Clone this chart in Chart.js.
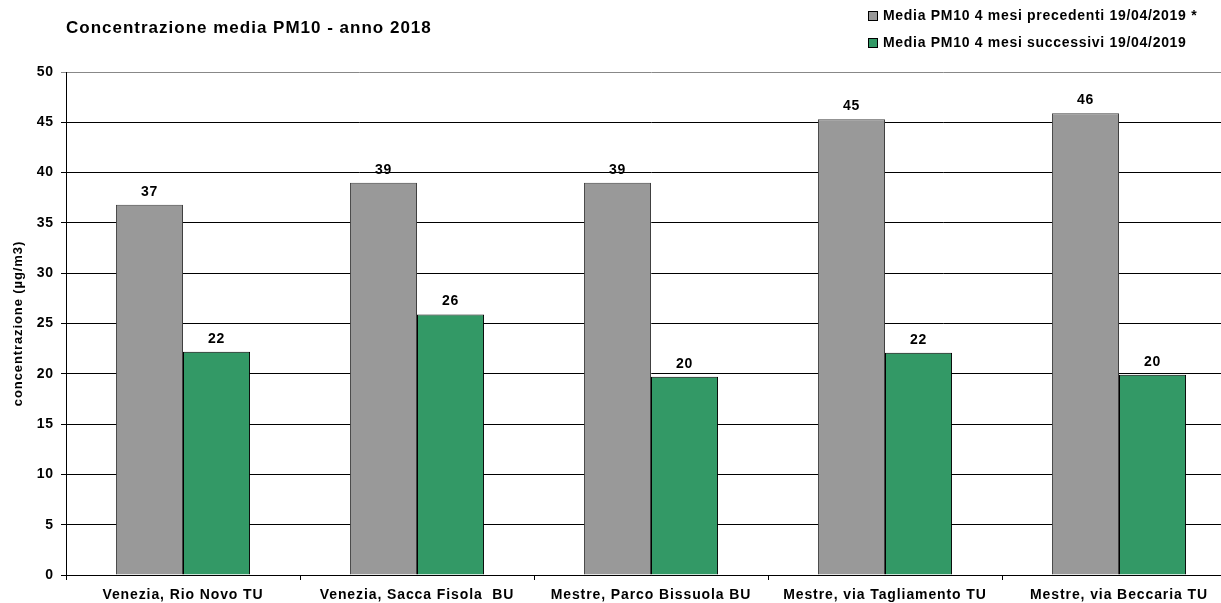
<!DOCTYPE html>
<html>
<head>
<meta charset="utf-8">
<script src="https://cdn.jsdelivr.net/npm/chart.js@4.4.0/dist/chart.umd.min.js"></script>
<style>
  html, body { margin: 0; padding: 0; background: #fff; overflow: hidden; }
  /* the original plot area runs past the right edge of the picture */
  #wrap { width: 1236px; height: 603px; position: relative; }
</style>
</head>
<body>
<div id="wrap"><canvas id="pmChart"></canvas></div>
<script>
// Stations and PM10 averages (µg/m3)
const stations = [
  'Venezia, Rio Novo TU',
  'Venezia, Sacca Fisola  BU',
  'Mestre, Parco Bissuola BU',
  'Mestre, via Tagliamento TU',
  'Mestre, via Beccaria TU'
];
const before = [36.8, 39.0, 39.0, 45.3, 45.9];
const after = [22.2, 25.9, 19.7, 22.1, 19.9];
const seriesNames = [
  'Media PM10 4 mesi precedenti 19/04/2019 *',
  'Media PM10 4 mesi successivi 19/04/2019'
];
const chartTitle = 'Concentrazione media PM10 - anno 2018';
const yTitle = 'concentrazione (µg/m3)';

const FONT = '"Liberation Sans", Arial, sans-serif';

// the original text is wider than Liberation Sans, spread the letters a bit
const spacing = {
  id: 'spacing',
  beforeDraw(chart) {
    chart.ctx.letterSpacing = '0.9px';
  }
};

// value labels above bars
const valueLabels = {
  id: 'valueLabels',
  afterDatasetsDraw(chart) {
    const ctx = chart.ctx;
    ctx.save();
    ctx.font = 'bold 14px ' + FONT;
    ctx.letterSpacing = '0.8px';
    ctx.fillStyle = '#000';
    ctx.textAlign = 'center';
    ctx.textBaseline = 'bottom';
    chart.data.datasets.forEach((ds, i) => {
      chart.getDatasetMeta(i).data.forEach((bar, j) => {
        ctx.fillText(Math.round(ds.data[j]), bar.x, bar.y - 6);
      });
    });
    ctx.restore();
  }
};

// title on the left, stacked legend on the right
const header = {
  id: 'header',
  afterDraw(chart) {
    const ctx = chart.ctx;
    ctx.save();
    ctx.fillStyle = '#000';
    ctx.textBaseline = 'middle';
    ctx.textAlign = 'left';
    ctx.font = 'bold 17px ' + FONT;
    ctx.letterSpacing = '1px';
    ctx.fillText(chartTitle, 66, 28);

    ctx.font = 'bold 14px ' + FONT;
    ctx.letterSpacing = '0.7px';
    const rows = [16, 43];
    chart.data.datasets.forEach((ds, i) => {
      const y = rows[i];
      ctx.fillStyle = ds.backgroundColor;
      ctx.fillRect(868.5, y - 4.5, 9, 9);
      ctx.strokeStyle = '#000';
      ctx.lineWidth = 1;
      ctx.strokeRect(868.5, y - 4.5, 9, 9);
      ctx.fillStyle = '#000';
      ctx.fillText(ds.label, 883, y);
    });
    ctx.restore();
  }
};

new Chart(document.getElementById('pmChart'), {
  type: 'bar',
  data: {
    labels: stations,
    datasets: [
      {
        label: seriesNames[0],
        data: before,
        backgroundColor: '#999999',
        borderColor: '#404040',
        borderWidth: 1
      },
      {
        label: seriesNames[1],
        data: after,
        backgroundColor: '#339966',
        borderColor: '#000000',
        borderWidth: 1
      }
    ]
  },
  options: {
    responsive: true,
    maintainAspectRatio: false,
    animation: false,
    layout: { padding: { top: 72, right: 0, left: 0, bottom: 0 } },
    datasets: { bar: { categoryPercentage: 0.573, barPercentage: 1 } },
    plugins: {
      legend: { display: false },
      title: { display: false },
      tooltip: { enabled: false }
    },
    scales: {
      x: {
        afterFit(scale) { scale.height = 28; },
        grid: {
          offset: true,
          drawOnChartArea: false,
          drawTicks: true,
          tickLength: 5,
          color: '#000'
        },
        border: { color: '#000' },
        ticks: {
          color: '#000',
          padding: 7,
          maxRotation: 0,
          autoSkip: false,
          font: { family: FONT, size: 14, weight: 'bold' }
        }
      },
      y: {
        min: 0,
        max: 50,
        afterFit(scale) { scale.width = 66; },
        grid: {
          color: (c) => (c.tick && c.tick.value === 50 ? '#888' : '#000'),
          drawTicks: true,
          tickLength: 5
        },
        border: { color: '#000' },
        ticks: {
          stepSize: 5,
          color: '#000',
          padding: 7,
          font: { family: FONT, size: 14, weight: 'bold' }
        },
        title: {
          display: true,
          text: yTitle,
          color: '#000',
          padding: { top: 11, bottom: 0 },
          font: { family: FONT, size: 13, weight: 'bold' }
        }
      }
    }
  },
  plugins: [spacing, valueLabels, header]
});
</script>
</body>
</html>
